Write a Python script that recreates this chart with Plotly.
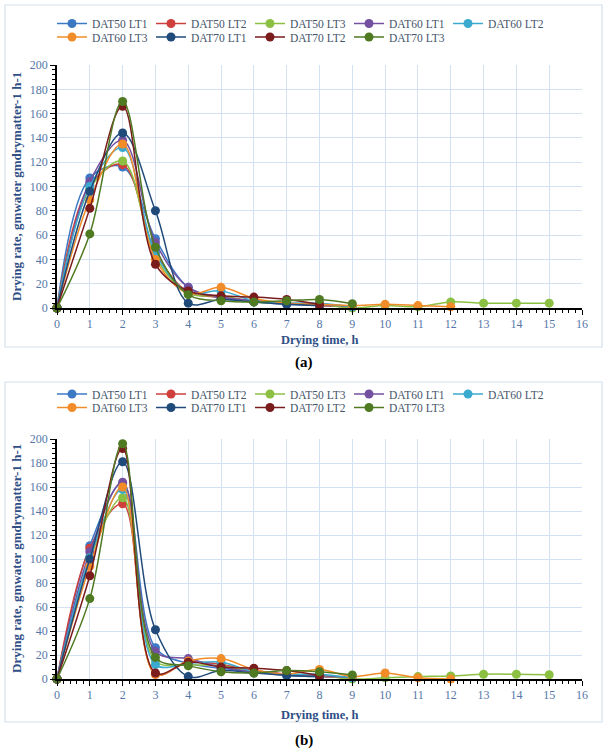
import plotly.graph_objects as go

names = ["DAT50 LT1", "DAT50 LT2", "DAT50 LT3", "DAT60 LT1", "DAT60 LT2",
         "DAT60 LT3", "DAT70 LT1", "DAT70 LT2", "DAT70 LT3"]
colors = ["#3C78C3", "#CF3F3C", "#8CC043", "#7450A0", "#3AAACF",
          "#F28C28", "#1F4A7A", "#7A1C1C", "#507A22"]

# Panel (a) drying rate values, hour 0..n
rate_a = {
    "DAT50 LT1": [0, 107, 116, 57, 17, 8, 5, 3, 2, 1],
    "DAT50 LT2": [0, 101, 118, 46, 13, 9, 6, 4, 2, 1],
    "DAT50 LT3": [0, 98, 121, 42, 12, 10, 5, 4, 3, 0, 2, 1, 5, 4, 4, 4],
    "DAT60 LT1": [0, 104, 138, 54, 17, 9, 6, 4, 3, 1],
    "DAT60 LT2": [0, 100, 132, 45, 13, 14, 6, 4, 4, 1],
    "DAT60 LT3": [0, 89, 135, 40, 12, 17, 8, 4, 3, 2, 3, 2, 1],
    "DAT70 LT1": [0, 96, 144, 80, 4, 7, 5, 3, 2],
    "DAT70 LT2": [0, 82, 166, 36, 14, 10, 9, 7, 3],
    "DAT70 LT3": [0, 61, 170, 50, 11, 6, 5, 6, 7, 3.5],
}

# Panel (b) drying rate values, hour 0..n
rate_b = {
    "DAT50 LT1": [0, 111, 163, 26, 13, 9, 6, 3, 2, 1],
    "DAT50 LT2": [0, 109, 146, 4, 14, 12, 7, 4, 2, 1],
    "DAT50 LT3": [0, 100, 151, 15, 12, 11, 6, 4, 3, 0, 1, 2, 2.5, 4, 4, 3.5],
    "DAT60 LT1": [0, 106, 164, 23, 17, 10, 6, 4, 3, 1],
    "DAT60 LT2": [0, 101, 158, 12, 13, 14, 6, 4, 4, 1],
    "DAT60 LT3": [0, 94, 160, 4, 15, 17, 8, 4, 8, 2, 5, 1, 0],
    "DAT70 LT1": [0, 100, 181, 41, 2, 7, 5, 3, 2],
    "DAT70 LT2": [0, 86, 192, 5, 14, 10, 9, 7, 3],
    "DAT70 LT3": [0, 67, 196, 18, 11, 6, 5, 7, 6, 3.3],
}

x_ticks = list(range(0, 17))
y_ticks = list(range(0, 201, 20))

W, H = 608, 752
FONT = "Liberation Serif"

def px_x(p):
    return p / W

def px_y(p):
    return 1 - p / H

fig = go.Figure()

legend_ids = {0: ("legend", "legend3"), 1: ("legend2", "legend4")}
for panel, data in enumerate([rate_a, rate_b]):
    xa = "x" if panel == 0 else "x2"
    ya = "y" if panel == 0 else "y2"
    for i, n in enumerate(names):
        vals = data[n]
        fig.add_trace(go.Scatter(
            x=list(range(len(vals))), y=vals, name=n,
            mode="lines+markers",
            line=dict(color=colors[i], width=1.5, shape="spline", smoothing=1.0),
            marker=dict(color=colors[i], size=9),
            xaxis=xa, yaxis=ya, cliponaxis=False,
            legend=legend_ids[panel][0] if i < 5 else legend_ids[panel][1],
        ))

axis_common = dict(
    range=[0, 16], tickvals=x_ticks, showgrid=True, gridcolor="#D3E2F2", gridwidth=1,
    showline=True, linecolor="black", linewidth=1.5,
    ticks="outside", ticklen=5, tickcolor="black", tickwidth=1.2,
    minor=dict(dtick=0.2, ticks="outside", ticklen=3, tickcolor="black", tickwidth=1, showgrid=False),
    tickfont=dict(family=FONT, size=12, color="#5577A8"), zeroline=False,
    ticklabelstandoff=-1, automargin=False,
)
yaxis_common = dict(
    range=[0, 200], tickvals=y_ticks, showgrid=True, gridcolor="#D3E2F2", gridwidth=1,
    showline=True, linecolor="black", linewidth=1.5,
    ticks="outside", ticklen=5, tickcolor="black", tickwidth=1.2,
    minor=dict(dtick=4, ticks="outside", ticklen=3, tickcolor="black", tickwidth=1, showgrid=False),
    tickfont=dict(family=FONT, size=12, color="#5577A8"), zeroline=False,
    automargin=False,
)

dom_x = [px_x(57), px_x(582)]
fig.update_layout(
    width=W, height=H, margin=dict(l=0, r=0, t=0, b=0, autoexpand=False),
    paper_bgcolor="white", plot_bgcolor="white",
    xaxis=dict(domain=dom_x, anchor="y", **axis_common),
    yaxis=dict(domain=[px_y(308), px_y(65)], anchor="x", **yaxis_common),
    xaxis2=dict(domain=dom_x, anchor="y2", **axis_common),
    yaxis2=dict(domain=[px_y(679), px_y(439)], anchor="x2", **yaxis_common),
    font=dict(family=FONT),
)

leg_common = dict(orientation="h", xanchor="left", yanchor="middle",
                  font=dict(family=FONT, size=11.5, color="#44546A"),
                  entrywidth=54, entrywidthmode="pixels", bgcolor="rgba(0,0,0,0)",
                  borderwidth=0, itemclick=False, tracegroupgap=0)
fig.update_layout(
    legend=dict(x=px_x(52), y=px_y(23.5), **leg_common),
    legend3=dict(x=px_x(52), y=px_y(37), **leg_common),
    legend2=dict(x=px_x(52), y=px_y(394), **leg_common),
    legend4=dict(x=px_x(52), y=px_y(407.5), **leg_common),
)

# frames
for (y0, y1) in [(5, 347), (382, 722)]:
    fig.add_shape(type="rect", xref="paper", yref="paper",
                  x0=px_x(5), x1=px_x(602), y0=px_y(y1), y1=px_y(y0),
                  line=dict(color="#D5DFEA", width=1.2), fillcolor="rgba(0,0,0,0)", layer="below")

ytitle = "Drying rate, gmwater gmdrymatter-1 h-1"
xtitle = "Drying time, h"
for (yc, xy, lab, ly) in [(187, 339.5, "(a)", 362), (559, 715, "(b)", 740)]:
    fig.add_annotation(text="<b>" + ytitle + "</b>", xref="paper", yref="paper",
                       x=px_x(16), y=px_y(yc), textangle=-90, showarrow=False,
                       font=dict(family=FONT, size=13, color="#2F4F86"),
                       xanchor="center", yanchor="middle")
    fig.add_annotation(text="<b>" + xtitle + "</b>", xref="paper", yref="paper",
                       x=px_x(319.5), y=px_y(xy), showarrow=False,
                       font=dict(family=FONT, size=12.5, color="#2F4F86"),
                       xanchor="center", yanchor="middle")
    fig.add_annotation(text="<b>" + lab + "</b>", xref="paper", yref="paper",
                       x=px_x(304), y=px_y(ly), showarrow=False,
                       font=dict(family=FONT, size=15, color="black"),
                       xanchor="center", yanchor="middle")

fig.write_html("out.html")
